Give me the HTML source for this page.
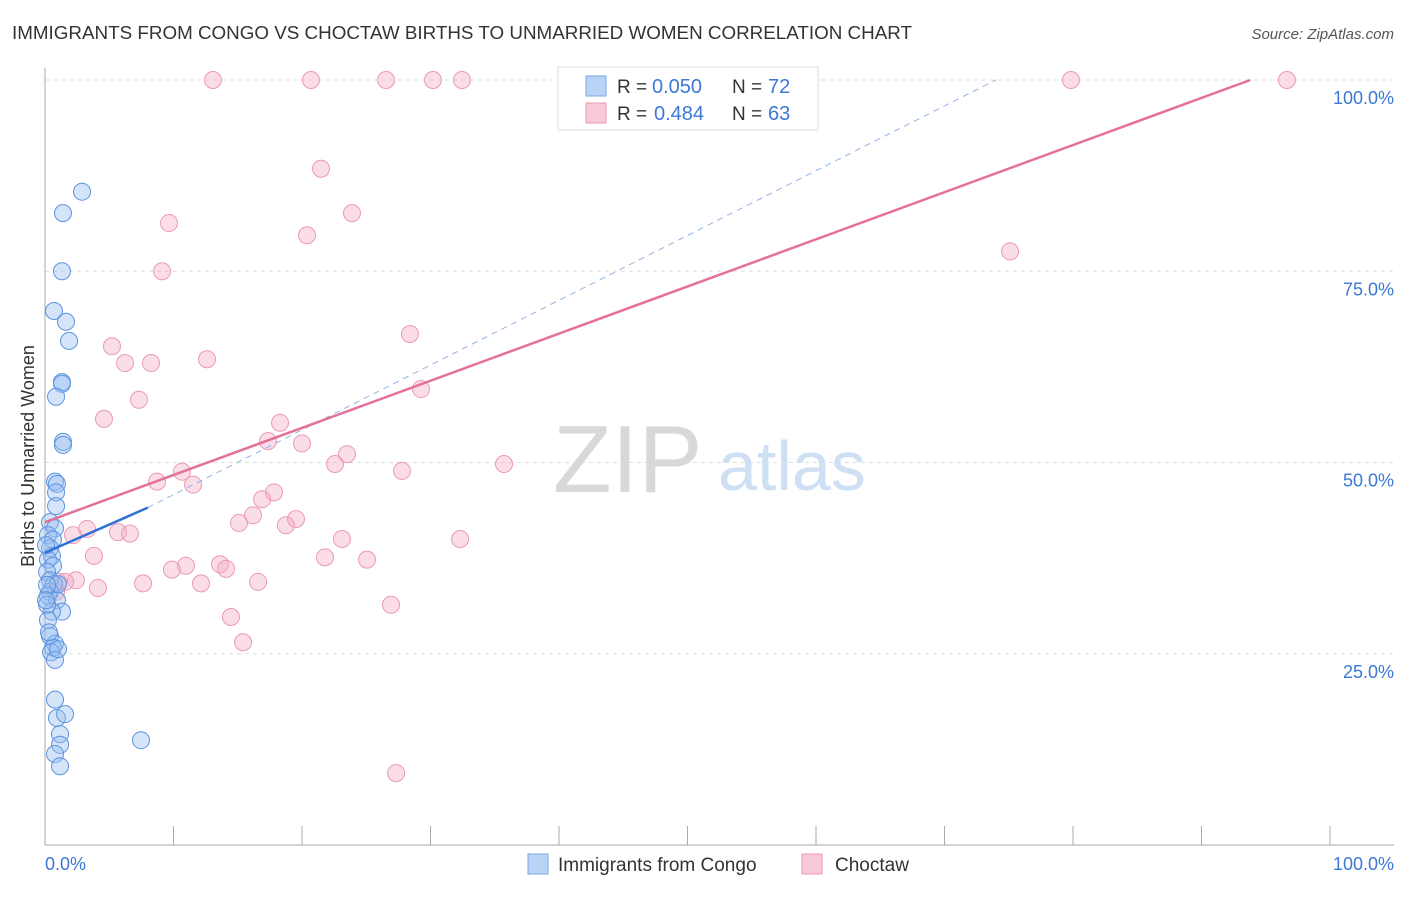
<!DOCTYPE html>
<html><head><meta charset="utf-8"><style>
body{margin:0;background:#fff;font-family:"Liberation Sans",sans-serif;}
svg text{font-family:"Liberation Sans",sans-serif;}
</style></head><body>
<svg width="1406" height="892" xmlns="http://www.w3.org/2000/svg">
<text x="12" y="39" font-size="18.6" fill="#333" textLength="900" lengthAdjust="spacingAndGlyphs">IMMIGRANTS FROM CONGO VS CHOCTAW BIRTHS TO UNMARRIED WOMEN CORRELATION CHART</text>
<text x="1394" y="39" font-size="15" fill="#555" font-style="italic" text-anchor="end">Source: ZipAtlas.com</text>
<g id="grid"></g>
<line x1="45" y1="68" x2="45" y2="845" stroke="#aaa"/>
<line x1="45" y1="845" x2="1394" y2="845" stroke="#aaa"/>
<text x="553" y="492" font-size="96" fill="#d8d8d8" font-family="Liberation Serif">ZIP</text>
<text x="718" y="490" font-size="70" fill="#cfe0f4">atlas</text>
<text x="34" y="456" font-size="18" fill="#333" transform="rotate(-90 34 456)" text-anchor="middle">Births to Unmarried Women</text>
<text x="45" y="870" font-size="18" fill="#3b78d8">0.0%</text>
<text x="1394" y="870" font-size="18" fill="#3b78d8" text-anchor="end">100.0%</text>
<g id="pts"></g>
<g id="trend"></g>
<g>
<rect x="558" y="67" width="260" height="63" fill="#fff" stroke="#ddd"/>
<rect x="586" y="76" width="20" height="20" fill="#b8d3f5" stroke="#7aa7e6"/>
<rect x="586" y="103" width="20" height="20" fill="#f9c9d8" stroke="#eb9ab4"/>
<text x="617" y="93" font-size="19" fill="#333">R =</text>
<text x="652" y="93" font-size="20" fill="#3b78d8">0.050</text>
<text x="732" y="93" font-size="19" fill="#333">N =</text>
<text x="768" y="93" font-size="20" fill="#3b78d8">72</text>
<text x="617" y="120" font-size="19" fill="#333">R =</text>
<text x="654" y="120" font-size="20" fill="#3b78d8">0.484</text>
<text x="732" y="120" font-size="19" fill="#333">N =</text>
<text x="768" y="120" font-size="20" fill="#3b78d8">63</text>
</g>
<g>
<rect x="528" y="854" width="20" height="20" fill="#b8d3f5" stroke="#7aa7e6"/>
<text x="558" y="871" font-size="19" fill="#333">Immigrants from Congo</text>
<rect x="802" y="854" width="20" height="20" fill="#f9c9d8" stroke="#eb9ab4"/>
<text x="835" y="871" font-size="19" fill="#333">Choctaw</text>
</g>
</svg>
<script>
const yTicks=[25,50,75,100];
const yTickLabels=["25.0%","50.0%","75.0%","100.0%"];
const xTicks=[0,10,20,30,40,50,60,70,80,90,100];
const congoX=[2.88,1.4,1.32,0.7,1.63,1.87,1.32,1.32,0.86,1.4,1.4,0.78,0.93,0.86,0.86,0.39,0.78,0.23,0.62,0.39,0.54,0.23,0.62,0.16,0.39,0.7,0.39,0.23,0.93,1.32,0.54,0.23,0.39,0.78,0.62,0.47,0.78,0.78,0.93,1.56,1.17,1.17,0.78,1.17,7.47,1.01,0.16,0.08,0.16,0.31,1.01,0.08];
const congoY=[85.4,82.6,75.0,69.8,68.4,65.9,60.5,60.3,58.6,52.7,52.3,47.5,47.2,46.1,44.3,42.2,41.4,40.5,39.9,38.8,37.8,37.3,36.5,35.7,34.6,34.1,33.1,32.6,32.0,30.5,30.5,29.4,27.3,26.3,25.8,25.2,24.2,19.0,16.6,17.1,14.5,13.1,11.9,10.3,13.7,34.1,34.0,39.2,31.4,27.8,25.6,32.0];
const choctawX=[13.07,20.7,26.54,30.19,32.45,79.84,96.65,21.48,23.89,9.65,20.39,9.11,75.1,28.4,5.21,6.23,8.25,12.61,29.26,7.31,4.59,18.29,17.35,20.0,23.5,22.57,35.72,27.78,10.66,8.72,11.52,17.82,16.89,16.19,15.1,19.53,18.75,3.27,5.68,6.61,23.11,32.3,2.18,3.81,21.79,25.06,10.97,9.88,13.62,14.09,2.41,1.56,1.01,7.63,12.14,16.58,4.12,0.86,26.93,14.47,15.41,27.32];
const choctawY=[100,100,100,100,100,100,100,88.4,82.6,81.3,79.7,75.0,77.6,66.8,65.2,63.0,63.0,63.5,59.6,58.2,55.7,55.2,52.8,52.5,51.1,49.8,49.8,48.9,48.8,47.5,47.1,46.1,45.2,43.1,42.1,42.6,41.8,41.3,40.9,40.7,40.0,40.0,40.5,37.8,37.6,37.3,36.5,36.0,36.7,36.1,34.6,34.4,34.4,34.2,34.2,34.4,33.6,33.1,31.4,29.8,26.5,9.4];
const congoTrend=[0,38.2,8,44.1];
const congoDash=[8,44.1,74,100];
const choctawTrend=[0,42.2,93.8,100];
const NS="http://www.w3.org/2000/svg";
const sx=v=>45+v*12.85, sy=v=>845-v*7.65;
function mk(t,a,p){const e=document.createElementNS(NS,t);for(const k in a)e.setAttribute(k,a[k]);p.appendChild(e);return e;}
const grid=document.getElementById('grid');
yTicks.forEach((t,i)=>{
 const l=mk('line',{x1:45,x2:1394,y1:sy(t),y2:sy(t),stroke:'#ddd','stroke-dasharray':'4,4'},grid);
 
 
 const tx=mk('text',{x:1394,y:sy(t)+24,'font-size':18,fill:'#3b78d8','text-anchor':'end'},grid);
 tx.textContent=yTickLabels[i];
 
 
});
xTicks.forEach(t=>{
 const l=mk('line',{x1:sx(t),x2:sx(t),y1:826,y2:845,stroke:'#aaa'},grid);
 
 
});
const pts=document.getElementById('pts');
choctawX.forEach((x,i)=>{
 const c=mk('circle',{cx:sx(x),cy:sy(choctawY[i]),r:8.5,fill:'rgba(246,170,195,0.4)',stroke:'#eb9ab4','stroke-width':1},pts);
 
 
});
congoX.forEach((x,i)=>{
 const c=mk('circle',{cx:sx(x),cy:sy(congoY[i]),r:8.5,fill:'rgba(150,190,240,0.4)',stroke:'#5d93e0','stroke-width':1},pts);
 
 
});
const tr=document.getElementById('trend');
let a=mk('line',{x1:sx(congoDash[0]),y1:sy(congoDash[1]),x2:sx(congoDash[2]),y2:sy(congoDash[3]),stroke:'#8fb3e3','stroke-width':1,'stroke-dasharray':'6,5'},tr);


a=mk('line',{x1:sx(choctawTrend[0]),y1:sy(choctawTrend[1]),x2:sx(choctawTrend[2]),y2:sy(choctawTrend[3]),stroke:'#e5709a','stroke-width':2.5},tr);


a=mk('line',{x1:sx(congoTrend[0]),y1:sy(congoTrend[1]),x2:sx(congoTrend[2]),y2:sy(congoTrend[3]),stroke:'#2f6fd6','stroke-width':2.5},tr);


</script>
</body></html>
